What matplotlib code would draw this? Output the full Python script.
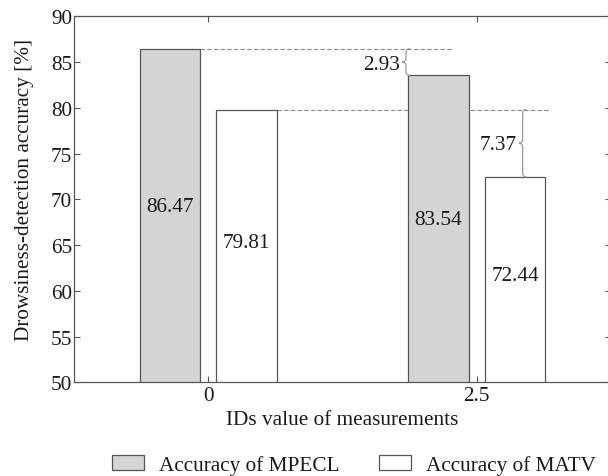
import matplotlib
matplotlib.use("Agg")
import matplotlib.pyplot as plt
from matplotlib.path import Path
from matplotlib.patches import PathPatch
import numpy as np

# ---- data ----
group_positions = [0, 2.5]
group_ticklabels = ["0", "2.5"]
mpecl = [86.47, 83.54]
matv = [79.81, 72.44]
series_names = ["Accuracy of MPECL", "Accuracy of MATV"]
yticks = [50, 55, 60, 65, 70, 75, 80, 85, 90]

plt.rcParams['font.family'] = ['Liberation Serif', 'DejaVu Serif']
plt.rcParams['font.size'] = 15

FS = 15.3
txt_col = '#1a1a1a'
edge_col = '#555555'

fig = plt.figure(figsize=(6.08, 4.77), dpi=100)
W, H = 608, 477
ax = fig.add_axes([74.3 / W, 1 - 383.3 / H, (611 - 74.3) / W, (383.3 - 17.3) / H])

off = 0.357
bw = 0.565
x = np.array(group_positions, dtype=float)
b1 = ax.bar(x - off, mpecl, width=bw, bottom=0, color='#d4d4d6', edgecolor=edge_col,
            linewidth=0.9, label=series_names[0], zorder=2)
b2 = ax.bar(x + off, matv, width=bw, bottom=0, color='white', edgecolor=edge_col,
            linewidth=0.9, label=series_names[1], zorder=2)

ax.set_xlim(-1.25, 3.75)
ax.set_ylim(50, 90)
ax.set_xticks(group_positions)
ax.set_xticklabels(group_ticklabels)
ax.set_yticks(yticks)

for s in ax.spines.values():
    s.set_color('#555555')
    s.set_linewidth(0.9)
ax.tick_params(direction='in', length=4, width=0.8, color='#555555',
               top=True, right=True, labelsize=FS, labelcolor=txt_col)
ax.tick_params(axis='y', pad=1.5)
ax.tick_params(axis='x', pad=3)

# value labels inside bars
for xi, v in zip(x - off, mpecl):
    ax.text(xi, (50 + v) / 2 + 1.0, f"{v:.2f}", ha='center', va='center',
            fontsize=FS, color=txt_col, zorder=3)
for xi, v in zip(x + off, matv):
    ax.text(xi, (50 + v) / 2 + 0.4, f"{v:.2f}", ha='center', va='center',
            fontsize=FS, color=txt_col, zorder=3)

# dashed reference lines
ax.plot([x[0] - off + bw / 2, 2.266], [mpecl[0], mpecl[0]], ls=(0, (4, 2)),
        color='#8a8a8a', lw=0.8, zorder=1)
ax.plot([x[0] + off + bw / 2, 3.18], [matv[0], matv[0]], ls=(0, (4, 2)),
        color='#8a8a8a', lw=0.8, zorder=1)


def brace(ax, xc, y0, y1, w=0.035, r=0.45):
    ym = (y0 + y1) / 2
    verts = [
        (xc + w, y1), (xc, y1), (xc, y1 - r),
        (xc, ym + r),
        (xc, ym), (xc - w, ym),
        (xc, ym), (xc, ym - r),
        (xc, y0 + r),
        (xc, y0), (xc + w, y0),
    ]
    codes = [Path.MOVETO, Path.CURVE3, Path.CURVE3,
             Path.LINETO,
             Path.CURVE3, Path.CURVE3,
             Path.CURVE3, Path.CURVE3,
             Path.LINETO,
             Path.CURVE3, Path.CURVE3]
    ax.add_patch(PathPatch(Path(verts, codes), fill=False, edgecolor='#9a9a9a',
                           lw=0.9, zorder=4))

# difference braces
d1 = mpecl[0] - mpecl[1]
d2 = matv[0] - matv[1]
brace(ax, x[1] - off - bw / 2 - 0.02, mpecl[1], mpecl[0])
ax.text(1.61, (mpecl[0] + mpecl[1]) / 2 - 0.3, f"{d1:.2f}", ha='center', va='center',
        fontsize=FS, color=txt_col, zorder=4)
brace(ax, 2.927, matv[1], matv[0])
ax.text(2.70, (matv[0] + matv[1]) / 2 - 0.1, f"{d2:.2f}", ha='center', va='center',
        fontsize=FS, color=txt_col, zorder=4)

ax.set_ylabel("Drowsiness-detection accuracy [%]", fontsize=FS, color=txt_col)
ax.yaxis.set_label_coords((34 - 74.3) / (611 - 74.3), (383.3 - 190) / 366)
ax.set_xlabel("IDs value of measurements", fontsize=FS, color=txt_col, labelpad=3)

fig.legend(handles=[b1, b2], labels=series_names, loc='center',
           bbox_to_anchor=(354 / W, 1 - 466 / H), bbox_transform=fig.transFigure,
           ncol=2, frameon=False, fontsize=FS, handlelength=1.52, handleheight=0.72,
           handletextpad=0.7, columnspacing=1.86, labelcolor=txt_col)

fig.savefig("out.png", dpi=100)
